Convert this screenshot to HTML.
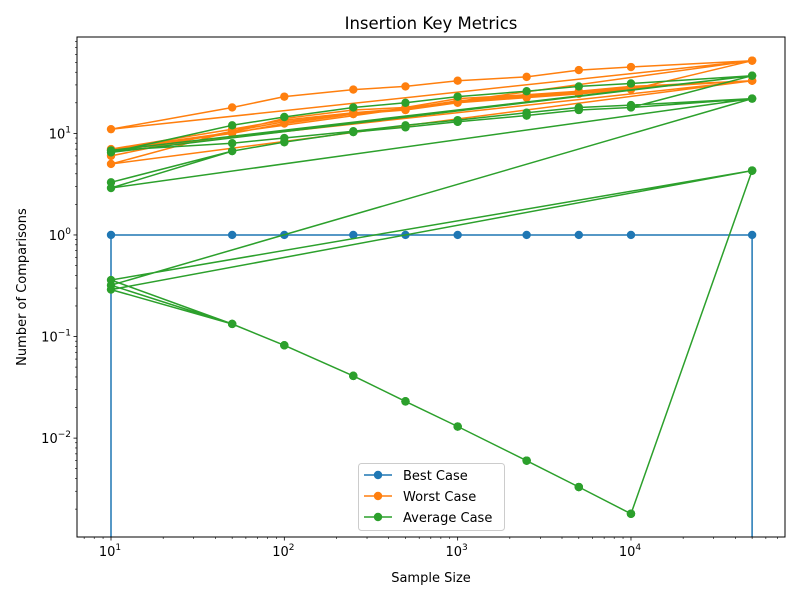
<!DOCTYPE html>
<html><head><meta charset="utf-8"><style>
html,body{margin:0;padding:0;background:#fff;width:800px;height:600px;overflow:hidden;position:relative;}
svg{display:block;font-family:"DejaVu Sans","Liberation Sans",sans-serif;}
</style></head><body>
<svg id="chart" width="800" height="600" viewBox="0 0 800 600" style="position:absolute;left:0;top:0;overflow:hidden;"></svg>
<script>
const sizes = [10,50,100,250,500,1000,2500,5000,10000,50000];
const bestXs = [10,10,50,100,250,500,1000,2500,5000,10000,50000,50000];
const bestYs = [0,1,1,1,1,1,1,1,1,1,1,0];
const worstRuns = [
  [6,10.5,13,15.5,17,20,22.5,24.5,27,52],
  [11,18,23,27,29,33,36,42,45,52],
  [7,11,13.5,16,17.5,21,23.5,25.5,28,33],
  [5,10.5,14,17,18,22,24,26,29,33],
  [6.8,10,12.5,15.5,17,20.5,23,25,28,33]
];
const avgRuns = [
  [3.3,6.7,8.2,10.3,11.5,13,15,17,18,37],
  [6.5,12,14.5,18,20,23,26,29,31,37],
  [6.8,8,9,10.5,12,13.5,16,18,19,22],
  [2.9,6.7,8.2,10.3,11.5,13,15,17,18,22],
  [0.32,0.133,0.082,0.041,0.023,0.013,0.006,0.0033,0.0018,4.3],
  [0.36,0.133,0.082,0.041,0.023,0.013,0.006,0.0033,0.0018,4.3],
  [0.29,0.133,0.082,0.041,0.023,0.013,0.006,0.0033,0.0018,4.3]
];
const xTickExps = [1,2,3,4];
const yTickExps = [-2,-1,0,1];

const L=77,R=785,T=37,B=537;
const xMin=1-34/173.3, xMax=4+154/173.3;
const yMax=1+96.5/101.7, yMin=-2-99/101.7;
function xs(v){return L+(Math.log10(v)-xMin)/(xMax-xMin)*(R-L);}
function ys(v){ if(v<=0) return B+4; return B-(Math.log10(v)-yMin)/(yMax-yMin)*(B-T);}
const NS="http://www.w3.org/2000/svg";
const svg=document.getElementById('chart');
function el(tag,attrs,parent){const e=document.createElementNS(NS,tag);for(const k in attrs)e.setAttribute(k,attrs[k]);(parent||svg).appendChild(e);return e;}

const defs=el('defs',{});
const cp=el('clipPath',{id:'clip'},defs);
el('rect',{x:L,y:T,width:R-L,height:B-T},cp);

const plot=el('g',{'clip-path':'url(#clip)'});



function drawSeries(xArr,yArr,color,name){
  const g=el('g',{},plot);
  
  
  const pts=xArr.map((x,i)=>xs(x).toFixed(1)+','+ys(yArr[i]).toFixed(1)).join(' ');
  const pl=el('polyline',{points:pts,fill:'none',stroke:color,'stroke-width':1.5,'stroke-linejoin':'round'},g);
  
  
  xArr.forEach((x,i)=>{
    if(yArr[i]<=0) return;
    const c=el('circle',{cx:xs(x),cy:ys(yArr[i]),r:4.2,fill:color},g);
    
    
  });
}
function flatten(runs){const X=[],Y=[];runs.forEach(r=>r.forEach((v,i)=>{X.push(sizes[i]);Y.push(v);}));return [X,Y];}
drawSeries(bestXs,bestYs,'#1f77b4','best-case-series');
const w=flatten(worstRuns); drawSeries(w[0],w[1],'#ff7f0e','worst-case-series');
const a=flatten(avgRuns); drawSeries(a[0],a[1],'#2ca02c','average-case-series');

const frame=el('rect',{x:L,y:T,width:R-L,height:B-T,fill:'none',stroke:'#000','stroke-width':1});



for(let e=0;e<=5;e++){
  for(let m=1;m<10;m++){
    const v=m*Math.pow(10,e);
    const px=xs(v);
    if(px<L-0.5||px>R+0.5) continue;
    const major=m===1;
    el('line',{x1:px,y1:B,x2:px,y2:B+(major?3.5:2),stroke:'#000','stroke-width':major?0.8:0.6});
  }
}
xTickExps.forEach(e=>{
  const t=el('text',{x:xs(Math.pow(10,e))-1,y:B+19,'font-size':13,'text-anchor':'middle',fill:'#000'});
  
  
  t.innerHTML='10<tspan dy="-6" font-size="9">'+e+'</tspan>';
});
for(let e=-3;e<=2;e++){
  for(let m=1;m<10;m++){
    const v=m*Math.pow(10,e);
    const py=ys(v);
    if(py<T-0.5||py>B+0.5) continue;
    const major=m===1;
    el('line',{x1:L,y1:py,x2:L-(major?3.5:2),y2:py,stroke:'#000','stroke-width':major?0.8:0.6});
  }
}
yTickExps.forEach(e=>{
  const t=el('text',{x:L-6,y:ys(Math.pow(10,e))+5,'font-size':13,'text-anchor':'end',fill:'#000'});
  
  
  t.innerHTML='10<tspan dy="-6" font-size="9">'+(e<0?'\u2212'+(-e):e)+'</tspan>';
});
</script>
<svg width="800" height="600" style="position:absolute;left:0;top:0;pointer-events:none;overflow:hidden;font-family:'DejaVu Sans','Liberation Sans',sans-serif;">
  <text x="431" y="29" font-size="16.5" text-anchor="middle">Insertion Key Metrics</text>
  <text x="431" y="582" font-size="13" text-anchor="middle">Sample Size</text>
  <text x="26" y="287" font-size="13" text-anchor="middle" transform="rotate(-90 26 287)">Number of Comparisons</text>
  <g>
    <rect x="358.5" y="463.5" width="146" height="67" rx="3" fill="#fff" fill-opacity="0.8" stroke="#ccc"/>
    <g>
      <line x1="364" y1="475" x2="392" y2="475" stroke="#1f77b4" stroke-width="1.5"/>
      <circle cx="378" cy="475" r="4.2" fill="#1f77b4"/>
      <text x="403" y="480" font-size="13">Best Case</text>
    </g>
    <g>
      <line x1="364" y1="496" x2="392" y2="496" stroke="#ff7f0e" stroke-width="1.5"/>
      <circle cx="378" cy="496" r="4.2" fill="#ff7f0e"/>
      <text x="403" y="501" font-size="13">Worst Case</text>
    </g>
    <g>
      <line x1="364" y1="517" x2="392" y2="517" stroke="#2ca02c" stroke-width="1.5"/>
      <circle cx="378" cy="517" r="4.2" fill="#2ca02c"/>
      <text x="403" y="522" font-size="13">Average Case</text>
    </g>
  </g>
</svg>
</body></html>
